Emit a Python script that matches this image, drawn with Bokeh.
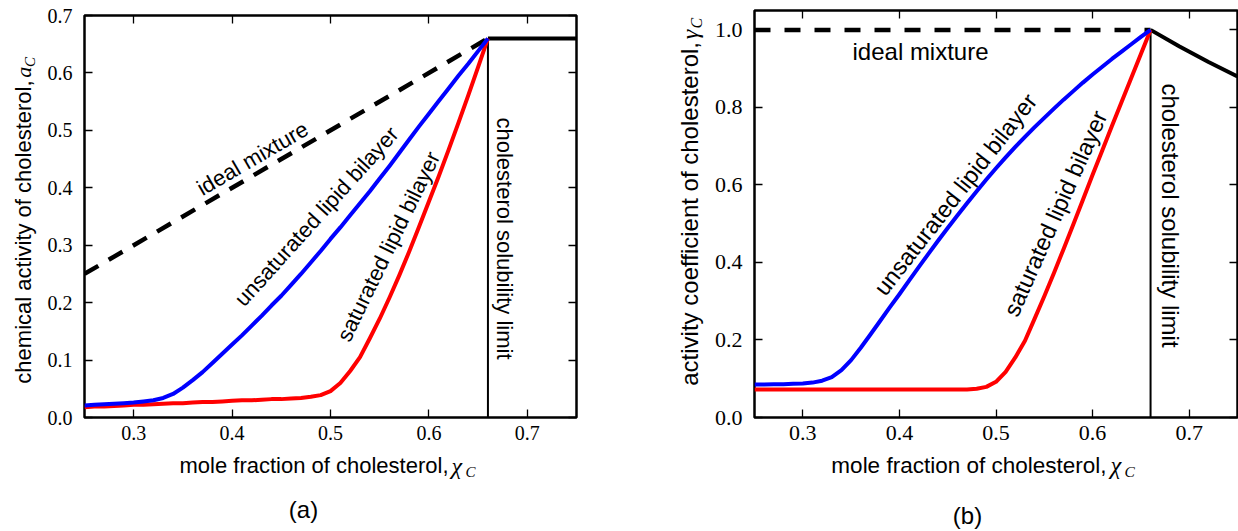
from bokeh.plotting import figure
from bokeh.layouts import row, column
from bokeh.models import Range1d, LinearAxis, FixedTicker, PrintfTickFormatter, Label
from bokeh.embed import file_html
from bokeh.resources import INLINE

# mole fraction of cholesterol, shared sampling for all bilayer curves
chi = [0.25, 0.26, 0.27, 0.28, 0.29, 0.30, 0.31, 0.32, 0.33, 0.34, 0.35,
       0.36, 0.37, 0.38, 0.39, 0.40, 0.41, 0.42, 0.43, 0.44, 0.45, 0.46,
       0.47, 0.48, 0.49, 0.50, 0.51, 0.52, 0.53, 0.54, 0.55, 0.56, 0.57,
       0.58, 0.59, 0.60, 0.61, 0.62, 0.63, 0.64, 0.65, 0.66]

# (a) chemical activity of cholesterol
act_unsat = [0.021, 0.022, 0.023, 0.024, 0.025, 0.026, 0.028, 0.030, 0.034, 0.041, 0.052,
             0.065, 0.079, 0.095, 0.111, 0.127, 0.143, 0.160, 0.177, 0.195, 0.212, 0.231,
             0.250, 0.270, 0.290, 0.311, 0.331, 0.352, 0.373, 0.394, 0.416, 0.438, 0.461,
             0.484, 0.507, 0.529, 0.551, 0.573, 0.595, 0.616, 0.638, 0.660]
act_sat = [0.018, 0.019, 0.019, 0.020, 0.021, 0.022, 0.022, 0.023, 0.024, 0.025, 0.025,
           0.026, 0.027, 0.027, 0.028, 0.029, 0.030, 0.030, 0.031, 0.032, 0.032, 0.033,
           0.034, 0.036, 0.039, 0.046, 0.060, 0.081, 0.105, 0.138, 0.172, 0.209, 0.248,
           0.289, 0.332, 0.376, 0.420, 0.466, 0.513, 0.561, 0.610, 0.660]
ideal_chi = [0.25, 0.66]
ideal_act = [0.25, 0.66]
limit_chi = 0.66
limit_act = 0.66
beyond_chi = [0.66, 0.75]
beyond_act = [0.66, 0.66]

# (b) activity coefficient of cholesterol
coef_unsat = [0.085, 0.085, 0.086, 0.086, 0.087, 0.088, 0.090, 0.095, 0.104, 0.122, 0.148,
              0.180, 0.214, 0.249, 0.284, 0.318, 0.353, 0.388, 0.422, 0.456, 0.489, 0.521,
              0.553, 0.584, 0.614, 0.643, 0.671, 0.698, 0.724, 0.749, 0.773, 0.797, 0.820,
              0.842, 0.864, 0.885, 0.905, 0.925, 0.944, 0.963, 0.982, 1.000]
coef_sat = [0.072, 0.072, 0.072, 0.072, 0.072, 0.072, 0.072, 0.072, 0.072, 0.072, 0.072,
            0.072, 0.072, 0.072, 0.072, 0.072, 0.072, 0.072, 0.072, 0.072, 0.072, 0.072,
            0.072, 0.074, 0.079, 0.092, 0.118, 0.155, 0.198, 0.255, 0.313, 0.373, 0.435,
            0.498, 0.562, 0.626, 0.689, 0.752, 0.814, 0.876, 0.938, 1.000]
ideal_coef = [1.0, 1.0]
limit_coef = 1.0
beyond_coef_chi = [0.66, 0.69, 0.72, 0.75]
beyond_coef = [1.000, 0.957, 0.917, 0.880]

xticks = [0.3, 0.4, 0.5, 0.6, 0.7]
yticks_a = [0.0, 0.1, 0.2, 0.3, 0.4, 0.5, 0.6, 0.7]
yticks_b = [0.0, 0.2, 0.4, 0.6, 0.8, 1.0]

SANS = "Liberation Sans"
SERIF = "Liberation Serif"
BLUE = "#0000ff"
RED = "#ff0000"
PI = 3.141592653589793
PAGE_H = 531
PLOT_H = 452     # height of the two data figures; text strips fill the rest


def make_panel(xr, yr, yticks, left, right, top, fw, fh, tick_px):
    p = figure(x_range=Range1d(*xr), y_range=Range1d(*yr),
               frame_width=fw, frame_height=fh,
               min_border_left=left, min_border_right=right,
               min_border_top=top, min_border_bottom=PLOT_H - top - fh,
               title_location=None,
               output_backend="svg", toolbar_location=None, tools="")
    p.xgrid.visible = False
    p.ygrid.visible = False
    p.outline_line_color = "black"
    p.outline_line_width = 2.5
    p.outline_line_alpha = 1.0
    p.background_fill_color = "white"
    p.border_fill_color = "white"
    p.add_layout(LinearAxis(), "above")
    p.add_layout(LinearAxis(), "right")
    for ax in p.xaxis:
        ax.ticker = FixedTicker(ticks=xticks)
    for ax in p.yaxis:
        ax.ticker = FixedTicker(ticks=yticks)
    for ax in list(p.xaxis) + list(p.yaxis):
        ax.axis_line_color = None
        ax.major_tick_in = 8
        ax.major_tick_out = 0
        ax.minor_tick_in = 0
        ax.minor_tick_out = 0
        ax.major_tick_line_width = 1.3
        ax.major_tick_line_color = "black"
        ax.minor_tick_line_color = None
        ax.formatter = PrintfTickFormatter(format="%.1f")
        ax.major_label_text_font = SERIF
        ax.major_label_text_font_size = f"{tick_px}px"
        ax.major_label_text_color = "black"
    p.below[0].major_label_standoff = 8
    p.left[0].major_label_standoff = 12
    # the top and right axes only carry the inward tick marks
    for ax in (p.above[0], p.right[0]):
        ax.major_label_text_font_size = "1px"
        ax.major_label_text_color = None
        ax.major_label_standoff = 0
    return p


def text_strip(w, h):
    """A bare figure whose data units are its own pixels (y measured upward)."""
    f = figure(width=w, height=h, min_border=0, x_range=Range1d(0, w), y_range=Range1d(0, h),
               x_axis_type=None, y_axis_type=None, title_location=None,
               output_backend="svg", toolbar_location=None, tools="")
    f.outline_line_color = None
    f.background_fill_color = "white"
    f.border_fill_color = "white"
    return f


def put(p, x, y, text, size, angle=0.0, align="left", font=SANS, style="normal",
        units="data"):
    p.add_layout(Label(x=x, y=y, x_units=units, y_units=units,
                       text=text, angle=angle, text_align=align,
                       text_baseline="middle", text_font=font,
                       text_font_style=style, text_font_size=f"{size}px",
                       text_color="black"))


# ---------------- panel (a) ----------------
YL_A_W = 42
pa = make_panel((0.25, 0.75), (0.0, 0.7), yticks_a, 84 - YL_A_W, 10, 15, 492, 402, 20)
FLa, FBa = 84, 417  # frame left / bottom on the page
pa.line(ideal_chi, ideal_act, color="black", line_width=4.5, line_dash="16 12")
pa.line(beyond_chi, beyond_act, color="black", line_width=4)
pa.segment(x0=[limit_chi], y0=[0.0], x1=[limit_chi], y1=[limit_act], color="black", line_width=2)
pa.line(chi, act_sat, color=RED, line_width=4, line_join="round")
pa.line(chi, act_unsat, color=BLUE, line_width=4, line_join="round")


def in_a(gx, gy, *args, **kw):
    put(pa, gx - FLa, FBa - gy, *args, units="screen", **kw)


in_a(252, 158, "ideal mixture", 22, angle=30.2 * PI / 180, align="center")
in_a(316, 216, "unsaturated lipid bilayer", 22, angle=48 * PI / 180, align="center")
in_a(388, 246, "saturated lipid bilayer", 22, angle=64 * PI / 180, align="center")
in_a(504, 238, "cholesterol solubility limit", 22, angle=-PI / 2, align="center")

yl_a = text_strip(YL_A_W, PLOT_H)
put(yl_a, 22.5, PLOT_H - 73, "chemical activity of cholesterol,", 22, angle=PI / 2, align="right")
put(yl_a, 22.5, PLOT_H - 70, "a", 22, angle=PI / 2, font=SERIF, style="italic")
put(yl_a, 29, PLOT_H - 58, "C", 15, angle=PI / 2, font=SERIF, style="italic")

xl_a = text_strip(586, PAGE_H - PLOT_H)
put(xl_a, 448, PAGE_H - 465, "mole fraction of cholesterol,", 22, align="right")
put(xl_a, 451, PAGE_H - 465, "χ", 24, font=SERIF, style="italic")
put(xl_a, 465, PAGE_H - 471, "C", 15, font=SERIF, style="italic")
put(xl_a, 303, PAGE_H - 509, "(a)", 24, align="center")

# ---------------- panel (b) ----------------
OFF = 586    # left edge of the second column on the page
YL_B_W = 122
pb = make_panel((0.25, 0.75), (0.0, 1.05), yticks_b, 754 - OFF - YL_B_W, 1, 10, 483, 407, 22)
FLb, FBb = 754, 417
pb.line([0.25, limit_chi], ideal_coef, color="black", line_width=4.5, line_dash="16 14")
pb.line(beyond_coef_chi, beyond_coef, color="black", line_width=4)
pb.segment(x0=[limit_chi], y0=[0.0], x1=[limit_chi], y1=[limit_coef], color="black", line_width=2)
pb.line(chi, coef_sat, color=RED, line_width=4, line_join="round")
pb.line(chi, coef_unsat, color=BLUE, line_width=4, line_join="round")


def in_b(gx, gy, *args, **kw):
    put(pb, gx - FLb, FBb - gy, *args, units="screen", **kw)


in_b(852, 51, "ideal mixture", 24)
in_b(955, 194, "unsaturated lipid bilayer", 23.5, angle=52 * PI / 180, align="center")
in_b(1055, 213, "saturated lipid bilayer", 23.5, angle=66 * PI / 180, align="center")
in_b(1170, 215, "cholesterol solubility limit", 24, angle=-PI / 2, align="center")

yl_b = text_strip(YL_B_W, PLOT_H)
put(yl_b, 689 - OFF, PLOT_H - 35, "activity coefficient of cholesterol,", 24, angle=PI / 2, align="right")
put(yl_b, 689 - OFF, PLOT_H - 32, "γ", 24, angle=PI / 2, font=SERIF, style="italic")
put(yl_b, 696 - OFF, PLOT_H - 20, "C", 16, angle=PI / 2, font=SERIF, style="italic")

xl_b = text_strip(1238 - OFF, PAGE_H - PLOT_H)
put(xl_b, 1106 - OFF, PAGE_H - 465, "mole fraction of cholesterol,", 22.5, align="right")
put(xl_b, 1110 - OFF, PAGE_H - 465, "χ", 24.5, font=SERIF, style="italic")
put(xl_b, 1124 - OFF, PAGE_H - 471, "C", 15.5, font=SERIF, style="italic")
put(xl_b, 967 - OFF, PAGE_H - 515, "(b)", 24, align="center")

layout = row(column(row(yl_a, pa), xl_a), column(row(yl_b, pb), xl_b))
open("out.html", "w").write(file_html(layout, INLINE))
